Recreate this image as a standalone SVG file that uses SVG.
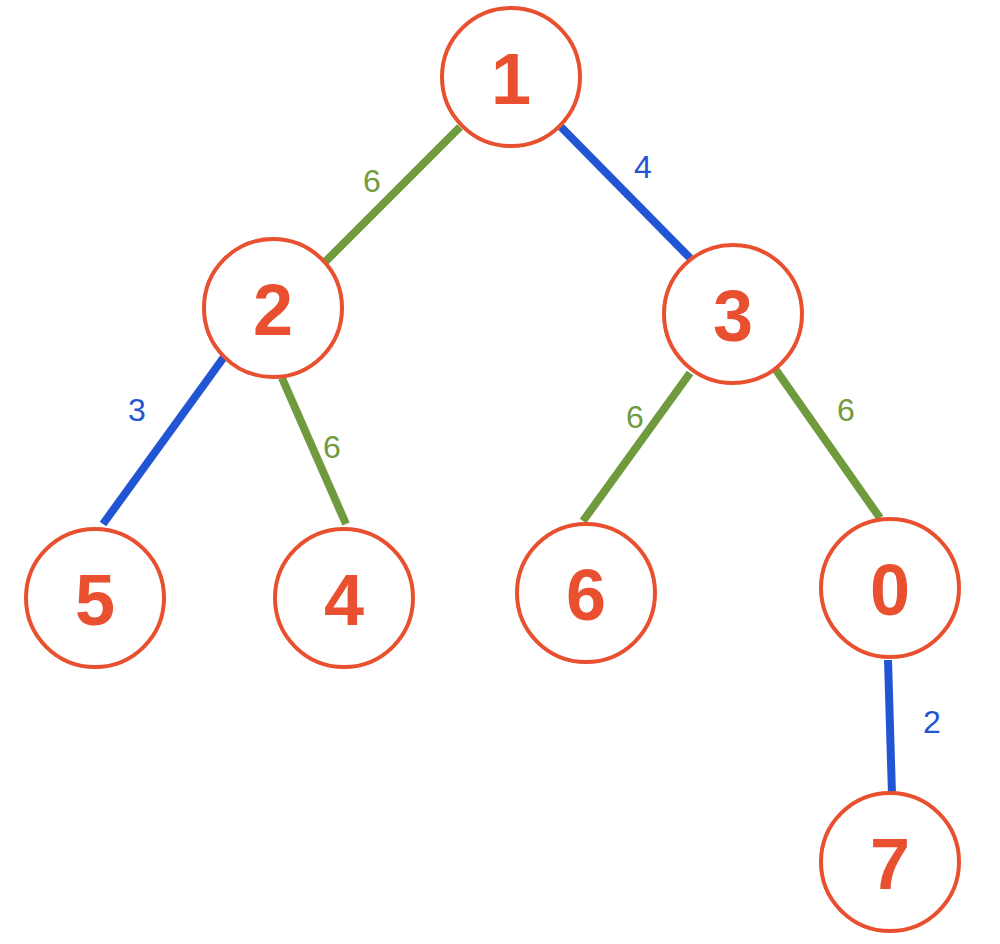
<svg xmlns="http://www.w3.org/2000/svg" width="1000" height="944" viewBox="0 0 1000 944">
<style>
.n circle{fill:#fff;stroke:#E8502F;stroke-width:4}
.n text{fill:#E8502F;font-family:"Liberation Sans",Arial,sans-serif;font-weight:bold;font-size:72px;text-anchor:middle;dominant-baseline:central}
.g{stroke:#6F9A3D;stroke-width:8}
.b{stroke:#2255D4;stroke-width:8}
.l{font-family:"Liberation Sans",Arial,sans-serif;font-size:32px;text-anchor:middle;dominant-baseline:central}
.lg{fill:#6F9A3D}.lb{fill:#2255D4}
</style>
<rect width="1000" height="944" fill="#fff"/>
<g id="connectors">
<line class="g" x1="460" y1="127" x2="322" y2="265"/>
<line class="b" x1="561" y1="127" x2="690" y2="258"/>
<line class="b" x1="224" y1="357" x2="103" y2="524"/>
<line class="g" x1="282" y1="378" x2="346" y2="524"/>
<line class="g" x1="690" y1="373" x2="583" y2="521"/>
<line class="g" x1="776" y1="370" x2="880" y2="518"/>
<line class="b" x1="888" y1="660" x2="892" y2="795"/>
<text class="l lg" x="372" y="181">6</text>
<text class="l lb" x="643" y="167">4</text>
<text class="l lb" x="137" y="410">3</text>
<text class="l lg" x="332" y="447">6</text>
<text class="l lg" x="635" y="417">6</text>
<text class="l lg" x="846" y="410">6</text>
<text class="l lb" x="932" y="722">2</text>
</g>
<g id="node1" class="n"><circle cx="511" cy="77" r="69"/><text x="511" y="79">1</text></g>
<g id="node2" class="n"><circle cx="273" cy="308" r="69"/><text x="273" y="310">2</text></g>
<g id="node3" class="n"><circle cx="733" cy="314" r="69"/><text x="733" y="316">3</text></g>
<g id="node5" class="n"><circle cx="95" cy="598" r="69"/><text x="95" y="600">5</text></g>
<g id="node4" class="n"><circle cx="344" cy="598" r="69"/><text x="344" y="600">4</text></g>
<g id="node6" class="n"><circle cx="586" cy="593" r="69"/><text x="586" y="595">6</text></g>
<g id="node0" class="n"><circle cx="890" cy="588" r="69"/><text x="890" y="590">0</text></g>
<g id="node7" class="n"><circle cx="890" cy="862" r="69"/><text x="890" y="864">7</text></g>
</svg>
